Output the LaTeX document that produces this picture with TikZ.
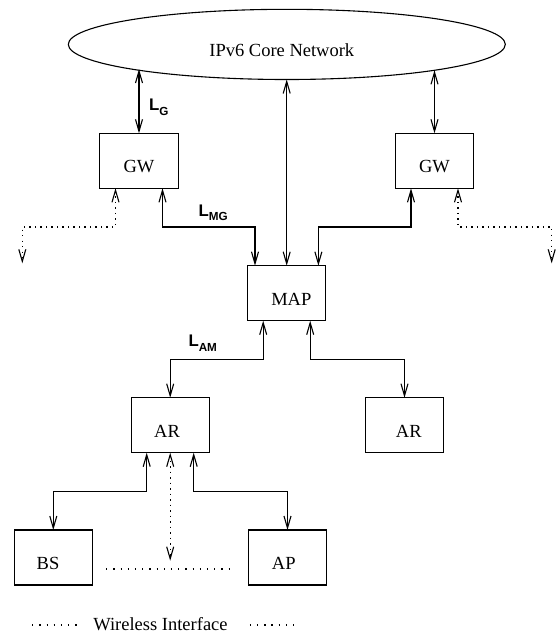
\documentclass[tikz,border=0pt]{standalone}
\usepackage{fontspec}
\setmainfont{Liberation Serif}
\newfontfamily\lblfont{Liberation Sans}
\usetikzlibrary{arrows.meta,shapes.geometric,calc}
\begin{document}
\begin{tikzpicture}[x=1pt,y=-1pt,
  >={Straight Barb[length=12pt,width=7pt]},
  every node/.style={font=\fontsize{18.5}{22}\selectfont},
  box/.style={draw, line width=1.1pt, minimum width=78.3pt, minimum height=55pt,
    inner sep=0pt, outer sep=0pt, text height=24pt, text depth=0pt},
  link/.style={line width=1.1pt, <->},
  radio/.style={link, dash pattern=on 1.3pt off 4.2pt},
  sep/.style={line width=1.2pt, dash pattern=on 1.3pt off 5.9pt},
  lbl/.style={font=\lblfont\bfseries\fontsize{16.8}{18}\selectfont, inner sep=0pt, anchor=base west}]
\useasboundingbox (0,0) rectangle (556,633);

% core network
\node[draw, ellipse, line width=1.1pt, minimum width=437pt, minimum height=70.2pt,
  inner sep=0pt, outer sep=0pt, text height=24pt, text depth=0pt]
  (core) at (286.8,44.4) {IPv6 Core Network\hspace*{10pt}};

% network elements
\node[box] (gwl) at (139,160.8) {GW};
\node[box] (gwr) at (434.5,160.8) {GW};
\node[box] (map) at (286.7,293.2) {\hspace*{9.2pt}MAP};
\node[box] (arl) at (170.2,425.2) {AR\hspace*{6.4pt}};
\node[box] (arr) at (404.5,425.2) {\hspace*{8.6pt}AR};
\node[box] (bs) at (53.3,557.5) {BS\hspace*{10.6pt}};
\node[box] (ap) at (287.5,557.5) {AP\hspace*{7.4pt}};

% ports
\coordinate (gwl-s1) at ([xshift=-23.5pt]gwl.south);
\coordinate (gwl-s2) at ([xshift=23.5pt]gwl.south);
\coordinate (gwr-s1) at ([xshift=-23.5pt]gwr.south);
\coordinate (gwr-s2) at ([xshift=23.5pt]gwr.south);
\coordinate (map-n1) at ([xshift=-31.7pt]map.north);
\coordinate (map-n3) at ([xshift=31.7pt]map.north);
\coordinate (map-s1) at ([xshift=-23.5pt]map.south);
\coordinate (map-s2) at ([xshift=23.5pt]map.south);
\coordinate (arl-s1) at ([xshift=-23.5pt]arl.south);
\coordinate (arl-s3) at ([xshift=23.5pt]arl.south);

% free ends of the wireless links
\coordinate (wl) at (22.3,263.3);
\coordinate (wr) at (551.7,263.3);
\coordinate (wa) at (170.2,560.7);

% bend levels
\coordinate (gm) at ($(gwl.south)!0.5!(map.north)$);
\coordinate (ma) at ($(map.south)!0.5!(arl.north)$);
\coordinate (ab) at ($(arl.south)!0.5!(bs.north)$);

% links to the core
\draw[link] (gwl.north |- core.189.92) -- (gwl.north);
\draw[link] (map.north |- core.south) -- (map.north);
\draw[link] (gwr.north |- core.350.07) -- (gwr.north);

% gateways to MAP
\draw[link] (gwl-s2) -- (gwl-s2 |- gm) -- (map-n1 |- gm) -- (map-n1);
\draw[link] (gwr-s1) -- (gwr-s1 |- gm) -- (map-n3 |- gm) -- (map-n3);
\draw[radio] (gwl-s1) -- (gwl-s1 |- gm) -- (wl |- gm) -- (wl);
\draw[radio] (gwr-s2) -- (gwr-s2 |- gm) -- (wr |- gm) -- (wr);

% MAP to access routers
\draw[link] (map-s1) -- (map-s1 |- ma) -- (arl.north |- ma) -- (arl.north);
\draw[link] (map-s2) -- (map-s2 |- ma) -- (arr.north |- ma) -- (arr.north);

% access router to BS / AP
\draw[link] (arl-s1) -- (arl-s1 |- ab) -- (bs.north |- ab) -- (bs.north);
\draw[link] (arl-s3) -- (arl-s3 |- ab) -- (ap.north |- ab) -- (ap.north);
\draw[radio] (arl.south) -- (wa);
\draw[sep] ([xshift=13.7pt,yshift=-11.5pt]bs.east) -- ([xshift=-15pt,yshift=-11.5pt]ap.west);

% link labels
\node[lbl] (lg) at (149,110.7) {L\raisebox{-4.5pt}{\fontsize{11.7}{12}\selectfont G}};
\node[lbl] (lmg) at (198.3,216) {L\raisebox{-4.5pt}{\fontsize{11.7}{12}\selectfont MG}};
\node[lbl] (lam) at (188.3,346) {L\raisebox{-5pt}{\fontsize{11.7}{12}\selectfont AM}};

% legend
\node[anchor=base, inner sep=0pt] (legend) at (160.5,630.8) {Wireless Interface};
\draw[sep] ([xshift=-61pt,yshift=5.8pt]legend.base west) -- ([xshift=-11pt,yshift=5.8pt]legend.base west);
\draw[sep] ([xshift=22pt,yshift=5.8pt]legend.base east) -- ([xshift=72pt,yshift=5.8pt]legend.base east);
\end{tikzpicture}
\end{document}
